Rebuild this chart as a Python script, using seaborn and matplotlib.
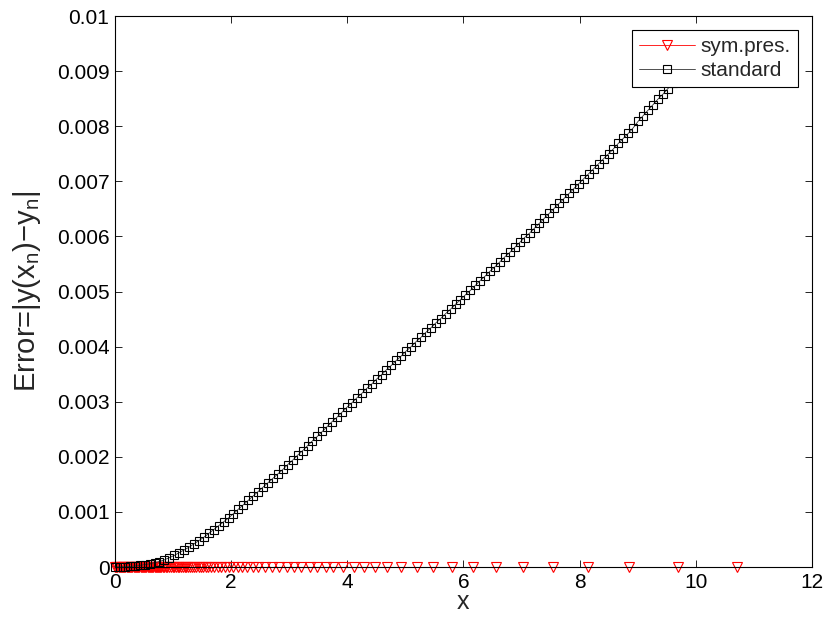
import matplotlib
matplotlib.use("Agg")
import matplotlib.pyplot as plt
import seaborn as sns
import pandas as pd

# ---- data ----
std_x = [0.0, 0.085, 0.17, 0.255, 0.34, 0.425, 0.51, 0.595, 0.68, 0.765,
         0.85, 0.935, 1.02, 1.105, 1.19, 1.275, 1.36, 1.445, 1.53, 1.615,
         1.70, 1.785, 1.87, 1.955, 2.04, 2.125, 2.21, 2.295, 2.38, 2.465,
         2.55, 2.635, 2.72, 2.805, 2.89, 2.975, 3.06, 3.145, 3.23, 3.315,
         3.40, 3.485, 3.57, 3.655, 3.74, 3.825, 3.91, 3.995, 4.08, 4.165,
         4.25, 4.335, 4.42, 4.505, 4.59, 4.675, 4.76, 4.845, 4.93, 5.015,
         5.10, 5.185, 5.27, 5.355, 5.44, 5.525, 5.61, 5.695, 5.78, 5.865,
         5.95, 6.035, 6.12, 6.205, 6.29, 6.375, 6.46, 6.545, 6.63, 6.715,
         6.80, 6.885, 6.97, 7.055, 7.14, 7.225, 7.31, 7.395, 7.48, 7.565,
         7.65, 7.735, 7.82, 7.905, 7.99, 8.075, 8.16, 8.245, 8.33, 8.415,
         8.50, 8.585, 8.67, 8.755, 8.84, 8.925, 9.01, 9.095, 9.18, 9.265,
         9.35, 9.435, 9.52, 9.605, 9.69, 9.775, 9.86, 9.945, 10.03, 10.115,
         10.20]
std_err = [0.0, 0.001e-3, 0.005e-3, 0.011e-3, 0.019e-3, 0.029e-3, 0.042e-3, 0.058e-3, 0.078e-3, 0.10e-3,
           0.13e-3, 0.17e-3, 0.21e-3, 0.26e-3, 0.31e-3, 0.36e-3, 0.42e-3, 0.48e-3, 0.54e-3, 0.61e-3,
           0.68e-3, 0.75e-3, 0.82e-3, 0.89e-3, 0.97e-3, 1.05e-3, 1.13e-3, 1.21e-3, 1.29e-3, 1.37e-3,
           1.45e-3, 1.53e-3, 1.61e-3, 1.69e-3, 1.77e-3, 1.86e-3, 1.94e-3, 2.03e-3, 2.11e-3, 2.20e-3,
           2.29e-3, 2.37e-3, 2.46e-3, 2.55e-3, 2.64e-3, 2.72e-3, 2.81e-3, 2.90e-3, 2.98e-3, 3.07e-3,
           3.15e-3, 3.24e-3, 3.32e-3, 3.41e-3, 3.49e-3, 3.58e-3, 3.66e-3, 3.75e-3, 3.83e-3, 3.92e-3,
           4.00e-3, 4.09e-3, 4.17e-3, 4.26e-3, 4.34e-3, 4.43e-3, 4.51e-3, 4.60e-3, 4.68e-3, 4.77e-3,
           4.85e-3, 4.94e-3, 5.02e-3, 5.11e-3, 5.20e-3, 5.28e-3, 5.37e-3, 5.45e-3, 5.54e-3, 5.63e-3,
           5.71e-3, 5.80e-3, 5.89e-3, 5.98e-3, 6.06e-3, 6.15e-3, 6.24e-3, 6.33e-3, 6.42e-3, 6.51e-3,
           6.60e-3, 6.69e-3, 6.78e-3, 6.87e-3, 6.96e-3, 7.05e-3, 7.14e-3, 7.23e-3, 7.32e-3, 7.41e-3,
           7.50e-3, 7.59e-3, 7.69e-3, 7.78e-3, 7.87e-3, 7.97e-3, 8.09e-3, 8.19e-3, 8.29e-3, 8.39e-3,
           8.49e-3, 8.58e-3, 8.68e-3, 8.78e-3, 8.88e-3, 8.97e-3, 9.07e-3, 9.17e-3, 9.26e-3, 9.36e-3,
           9.45e-3]

sym_x = [0.0, 0.02, 0.04, 0.06, 0.08, 0.10, 0.12, 0.14, 0.16, 0.18,
         0.20, 0.22, 0.24, 0.26, 0.28, 0.30, 0.32, 0.34, 0.36, 0.38,
         0.40, 0.42, 0.44, 0.46, 0.48, 0.50, 0.52, 0.54, 0.56, 0.58,
         0.60, 0.62, 0.64, 0.66, 0.68, 0.70, 0.72, 0.74, 0.76, 0.78,
         0.80, 0.82, 0.84, 0.87, 0.90, 0.93, 0.96, 0.99, 1.02, 1.05,
         1.08, 1.11, 1.14, 1.17, 1.20, 1.23, 1.26, 1.29, 1.32, 1.36,
         1.40, 1.44, 1.48, 1.52, 1.56, 1.60, 1.65, 1.71, 1.77, 1.83,
         1.89, 1.96, 2.03, 2.11, 2.19, 2.28, 2.37, 2.47, 2.58, 2.71,
         2.83, 2.96, 3.09, 3.21, 3.35, 3.48, 3.63, 3.76, 3.93, 4.11,
         4.29, 4.48, 4.68, 4.92, 5.20, 5.48, 5.80, 6.16, 6.57, 7.02,
         7.54, 8.14, 8.85, 9.70, 10.72]
sym_err = [0.0] * len(sym_x)

x_ticks = [0, 2, 4, 6, 8, 10, 12]
y_ticks = [0, 0.001, 0.002, 0.003, 0.004, 0.005, 0.006, 0.007, 0.008, 0.009, 0.01]
y_ticklabels = ["0", "0.001", "0.002", "0.003", "0.004", "0.005",
                "0.006", "0.007", "0.008", "0.009", "0.01"]

sns.set_theme(style="white")
plt.rcParams['font.family'] = ['Liberation Sans', 'DejaVu Sans']
plt.rcParams['mathtext.fontset'] = 'custom'
plt.rcParams['mathtext.rm'] = 'Liberation Sans'
plt.rcParams['mathtext.it'] = 'Liberation Sans'

fig = plt.figure(figsize=(8.3, 6.31), dpi=100)
ax = fig.add_axes([0.1386, 0.1014, 0.8394, 0.8732])

sym_df = pd.DataFrame({"x": sym_x, "err": sym_err})
std_df = pd.DataFrame({"x": std_x, "err": std_err})

sns.lineplot(data=sym_df, x="x", y="err", ax=ax, color="red", linewidth=0.6,
             marker="v", markersize=7.5, markerfacecolor="none",
             markeredgecolor="red", markeredgewidth=0.8, sort=False,
             label="sym.pres.", zorder=2, clip_on=False)
sns.lineplot(data=std_df, x="x", y="err", ax=ax, color="#333333", linewidth=0.6,
             marker="s", markersize=5.5, markerfacecolor="none",
             markeredgecolor="black", markeredgewidth=0.8, sort=False,
             label="standard", zorder=3, clip_on=False)

ax.set_xlim(0, 12)
ax.set_ylim(0, 0.01)
ax.set_xticks(x_ticks)
ax.set_xticklabels([str(t) for t in x_ticks])
ax.set_yticks(y_ticks)
ax.set_yticklabels(y_ticklabels)
ax.tick_params(direction="in", length=5, width=0.6, labelsize=15,
               top=True, right=True, bottom=True, left=True, colors="black",
               pad=4)
for s in ax.spines.values():
    s.set_color("black")
    s.set_linewidth(0.8)

ax.set_xlabel("x", fontsize=18, labelpad=-1)
ax.set_ylabel(r"Error=|y(x$_{\rm n}$)$-$y$_{\rm n}$|", fontsize=21, labelpad=10)

leg = ax.legend(loc="upper right", fontsize=15, frameon=True, fancybox=False,
                framealpha=1, edgecolor="black", borderpad=0.35,
                handlelength=2.7, handletextpad=0.25, labelspacing=0.25,
                borderaxespad=0.65)
leg.get_frame().set_linewidth(0.8)

fig.savefig("out.png", dpi=100)
